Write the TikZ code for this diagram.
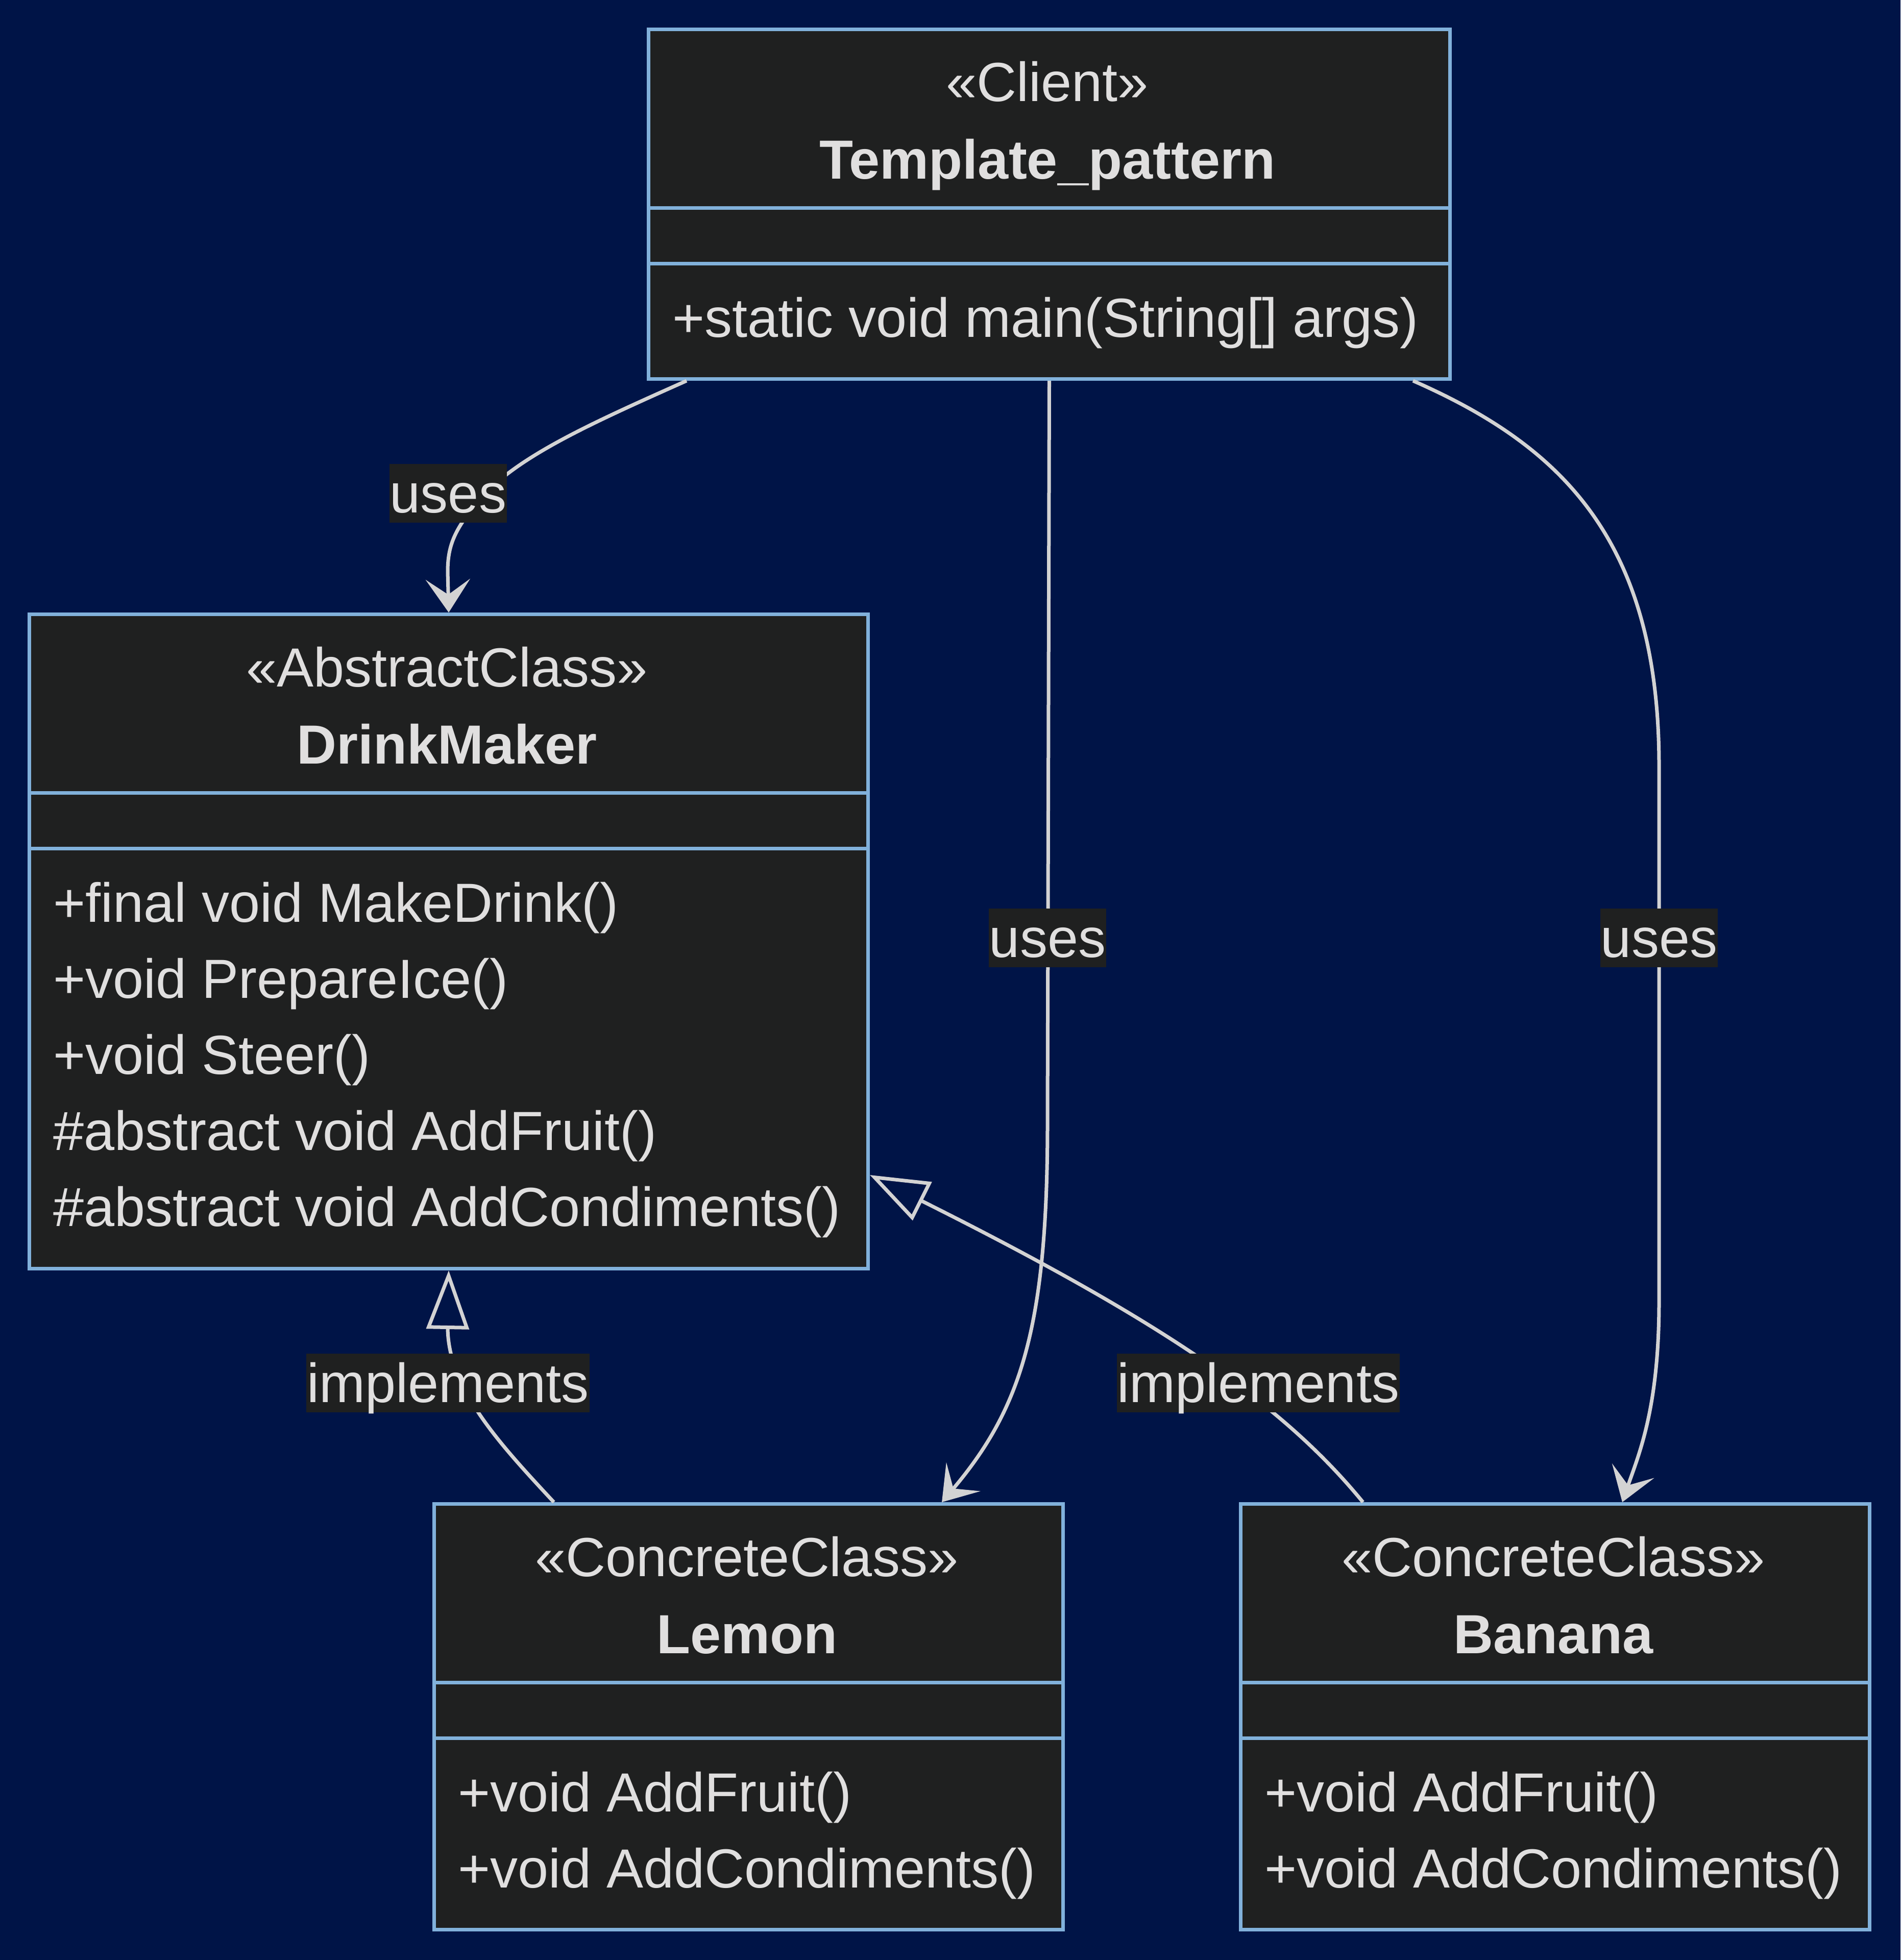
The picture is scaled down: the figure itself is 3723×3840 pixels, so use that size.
\documentclass[tikz,border=0pt]{standalone}
\usepackage{fontspec}
\setmainfont{Liberation Sans}
\usetikzlibrary{arrows.meta,calc}
\definecolor{bgc}{HTML}{001447}
\definecolor{boxc}{HTML}{1F2020}
\definecolor{bordc}{HTML}{81B1DB}
\definecolor{txtc}{HTML}{E0DFDF}
\definecolor{linec}{HTML}{D3D3D3}
\begin{document}
\begin{tikzpicture}[x=1pt,y=-1pt,
 umlbox/.style={draw=bordc, fill=boxc, line width=7pt, rectangle, inner sep=0pt, anchor=north west},
 divider/.style={draw=bordc, line width=7pt},
 txt/.style={text=txtc, inner sep=0pt, font=\fontsize{108}{130}\selectfont},
 clsname/.style={txt, anchor=base, font=\fontsize{108}{130}\selectfont\bfseries},
 stereo/.style={txt, anchor=base},
 member/.style={txt, anchor=base west},
 lbl/.style={txt, fill=boxc, inner xsep=1pt, inner ysep=0pt, text height=95pt, text depth=20pt, anchor=base},
 uses/.style={draw=linec, line width=7pt, -{Stealth[length=65pt,width=87pt,inset=30pt]}},
 impl/.style={draw=linec, line width=7pt, -{Triangle[open,length=115pt,width=83pt]}},
]
\useasboundingbox (0,0) rectangle (3723,3840);
\fill[bgc] (0,0) rectangle (3723,3840);

% ---------- Template_pattern ----------
\node[umlbox, minimum width=1570pt, minimum height=685pt] (tp) at (1267,54) {};
\draw[divider] ($(tp.north west)+(0,353)$) -- ($(tp.north east)+(0,353)$);
\draw[divider] ($(tp.north west)+(0,462)$) -- ($(tp.north east)+(0,462)$);
\node[stereo] (tps) at (2052,199) {«Client»};
\node[clsname] (tpn) at (2052,350) {Template\_pattern};
\node[member] (tpm1) at (1317,660) {+static void main(String[] args)};

% ---------- DrinkMaker ----------
\node[umlbox, minimum width=1643pt, minimum height=1282pt] (dm) at (54,1200) {};
\draw[divider] ($(dm.north west)+(0,353)$) -- ($(dm.north east)+(0,353)$);
\draw[divider] ($(dm.north west)+(0,462)$) -- ($(dm.north east)+(0,462)$);
\node[stereo] (dms) at (875.5,1345) {«AbstractClass»};
\node[clsname] (dmn) at (875.5,1496) {DrinkMaker};
\node[member] (dm1) at (104,1806) {+final void MakeDrink()};
\node[member] (dm2) at (104,1955) {+void PrepareIce()};
\node[member] (dm3) at (104,2104) {+void Steer()};
\node[member] (dm4) at (104,2253) {\#abstract void AddFruit()};
\node[member] (dm5) at (104,2402) {\#abstract void AddCondiments()};

% ---------- Lemon ----------
\node[umlbox, minimum width=1232pt, minimum height=834pt] (lemon) at (847,2943) {};
\draw[divider] ($(lemon.north west)+(0,353)$) -- ($(lemon.north east)+(0,353)$);
\draw[divider] ($(lemon.north west)+(0,462)$) -- ($(lemon.north east)+(0,462)$);
\node[stereo] (les) at (1463,3088) {«ConcreteClass»};
\node[clsname] (len) at (1463,3239) {Lemon};
\node[member] (le1) at (897,3549) {+void AddFruit()};
\node[member] (le2) at (897,3698) {+void AddCondiments()};

% ---------- Banana ----------
\node[umlbox, minimum width=1232pt, minimum height=834pt] (banana) at (2427,2943) {};
\draw[divider] ($(banana.north west)+(0,353)$) -- ($(banana.north east)+(0,353)$);
\draw[divider] ($(banana.north west)+(0,462)$) -- ($(banana.north east)+(0,462)$);
\node[stereo] (bas) at (3043,3088) {«ConcreteClass»};
\node[clsname] (ban) at (3043,3239) {Banana};
\node[member] (ba1) at (2477,3549) {+void AddFruit()};
\node[member] (ba2) at (2477,3698) {+void AddCondiments()};

% ---------- connectors ----------
\draw[uses] ($(tp.south west)+(78,0)$) .. controls (1150,833) and (1000,900) .. (930,990)
  .. controls (890,1040) and (877,1070) .. (877,1120) -- (dm.north);
\draw[uses] (tp.south) -- (2052,2200) .. controls (2052,2600) and (2000,2760) .. ($(lemon.north west)+(998,0)$);
\draw[uses] ($(tp.south west)+(1501,0)$) .. controls (3050,870) and (3250,1050) .. (3250,1500)
  -- (3250,2550) .. controls (3250,2760) and (3210,2850) .. ($(banana.north west)+(751,0)$);
\draw[impl] ($(lemon.north west)+(238,0)$) .. controls (980,2830) and (877,2720) .. (877,2600) -- (dm.south);
\draw[impl] ($(banana.north west)+(243,0)$) .. controls (2520,2760) and (2300,2600) .. ($(dm.south east)+(0,-187)$);

% ---------- labels ----------
\node[lbl] (l1) at (878,1004) {uses};
\node[lbl] (l2) at (2052,1875) {uses};
\node[lbl] (l3) at (3250,1875) {uses};
\node[lbl] (l4) at (877.5,2747) {implements};
\node[lbl] (l5) at (2465,2747) {implements};
\end{tikzpicture}
\end{document}
